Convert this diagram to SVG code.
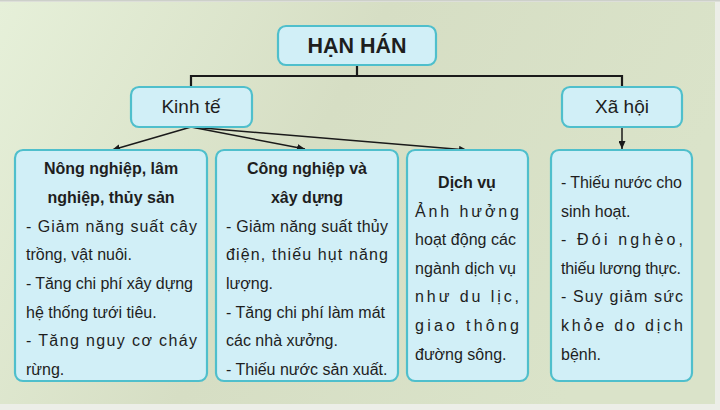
<svg xmlns="http://www.w3.org/2000/svg" width="720" height="410" viewBox="0 0 720 410">
  <defs>
    <linearGradient id="bg" x1="0" y1="0" x2="1" y2="0.3">
      <stop offset="0" stop-color="#e6f0d9"/>
      <stop offset="0.5" stop-color="#d6dec4"/>
      <stop offset="1" stop-color="#dae3c9"/>
    </linearGradient>
    <marker id="arr" markerUnits="userSpaceOnUse" markerWidth="9" markerHeight="7" refX="8" refY="3.5" orient="auto">
      <path d="M0,0 L8,3.5 L0,7 z" fill="#1a1a1a"/>
    </marker>
    <style>
      .box { fill: #d1eff7; stroke: #4fbfcc; stroke-width: 2.2; }
      .t { font-family: "Liberation Sans", Arial, sans-serif; font-size: 16px; fill: #1e1e1e; }
      .b { font-weight: bold; text-anchor: middle; }
      .c { text-anchor: middle; }
      .h { font-size: 22.5px; }
      .m { font-size: 19px; }
      .line { stroke: #1a1a1a; stroke-width: 2.2; fill: none; }
      .arrow { stroke: #1a1a1a; stroke-width: 1.5; fill: none; marker-end: url(#arr); }
    </style>
  </defs>

  <rect x="0" y="0" width="720" height="410" fill="#eceee8"/>
  <rect x="0" y="2" width="715" height="402" fill="url(#bg)"/>
  <rect x="0" y="0" width="720" height="1.5" fill="#cdd0ca"/>

  <g id="connectors">
    <path class="line" d="M357,65 V76 M191,76 H622 M191,75 V87 M622,75 V87"/>
    <line class="arrow" x1="191" y1="127" x2="112" y2="150"/>
    <line class="arrow" x1="191" y1="127" x2="305" y2="149"/>
    <line class="arrow" x1="191" y1="127" x2="467" y2="150"/>
    <line class="arrow" x1="622" y1="127" x2="622" y2="149"/>
  </g>

  <g id="han-han">
    <rect class="box" x="278" y="26" width="158" height="39" rx="8"/>
    <text class="t b h" x="357" y="53" textLength="99" lengthAdjust="spacingAndGlyphs">HẠN HÁN</text>
  </g>

  <g id="kinh-te">
    <rect class="box" x="131" y="87" width="121" height="40" rx="8"/>
    <text class="t c m" x="191" y="113">Kinh tế</text>
  </g>

  <g id="xa-hoi">
    <rect class="box" x="562" y="87" width="120" height="40" rx="8"/>
    <text class="t c m" x="622" y="113">Xã hội</text>
  </g>

  <g id="nong-nghiep">
    <rect class="box" x="15" y="150" width="192" height="231" rx="8"/>
    <text class="t b" x="111" y="174">Nông nghiệp, lâm</text>
    <text class="t b" x="111" y="203">nghiệp, thủy sản</text>
    <text class="t" x="26" y="232" textLength="171" lengthAdjust="spacing">- Giảm năng suất cây</text>
    <text class="t" x="26" y="260">trồng, vật nuôi.</text>
    <text class="t" x="26" y="289" textLength="167" lengthAdjust="spacing">- Tăng chi phí xây dựng</text>
    <text class="t" x="26" y="318">hệ thống tưới tiêu.</text>
    <text class="t" x="26" y="346" textLength="171" lengthAdjust="spacing">- Tăng nguy cơ cháy</text>
    <text class="t" x="26" y="375">rừng.</text>
  </g>

  <g id="cong-nghiep">
    <rect class="box" x="216" y="150" width="182" height="231" rx="8"/>
    <text class="t b" x="307" y="174">Công nghiệp và</text>
    <text class="t b" x="307" y="203">xây dựng</text>
    <text class="t" x="226" y="232" textLength="162" lengthAdjust="spacing">- Giảm năng suất thủy</text>
    <text class="t" x="226" y="260" textLength="162" lengthAdjust="spacing">điện, thiếu hụt năng</text>
    <text class="t" x="226" y="289">lượng.</text>
    <text class="t" x="226" y="318" textLength="159" lengthAdjust="spacing">- Tăng chi phí làm mát</text>
    <text class="t" x="226" y="346">các nhà xưởng.</text>
    <text class="t" x="226" y="375">- Thiếu nước sản xuất.</text>
  </g>

  <g id="dich-vu">
    <rect class="box" x="407" y="150" width="121" height="231" rx="8"/>
    <text class="t b" x="467" y="188">Dịch vụ</text>
    <text class="t" x="415" y="217" textLength="104" lengthAdjust="spacing">Ảnh hưởng</text>
    <text class="t" x="415" y="245" textLength="101" lengthAdjust="spacing">hoạt động các</text>
    <text class="t" x="415" y="274" textLength="101" lengthAdjust="spacing">ngành dịch vụ</text>
    <text class="t" x="415" y="302" textLength="104" lengthAdjust="spacing">như du lịc,</text>
    <text class="t" x="415" y="331" textLength="104" lengthAdjust="spacing">giao thông</text>
    <text class="t" x="415" y="360">đường sông.</text>
  </g>

  <g id="xa-hoi-chi-tiet">
    <rect class="box" x="551" y="150" width="141" height="231" rx="8"/>
    <text class="t" x="561" y="188" textLength="121" lengthAdjust="spacing">- Thiếu nước cho</text>
    <text class="t" x="561" y="217">sinh hoạt.</text>
    <text class="t" x="561" y="245" textLength="122" lengthAdjust="spacing">- Đói nghèo,</text>
    <text class="t" x="561" y="274" textLength="120" lengthAdjust="spacing">thiếu lương thực.</text>
    <text class="t" x="561" y="302" textLength="122" lengthAdjust="spacing">- Suy giảm sức</text>
    <text class="t" x="561" y="331" textLength="122" lengthAdjust="spacing">khỏe do dịch</text>
    <text class="t" x="561" y="360">bệnh.</text>
  </g>
</svg>
